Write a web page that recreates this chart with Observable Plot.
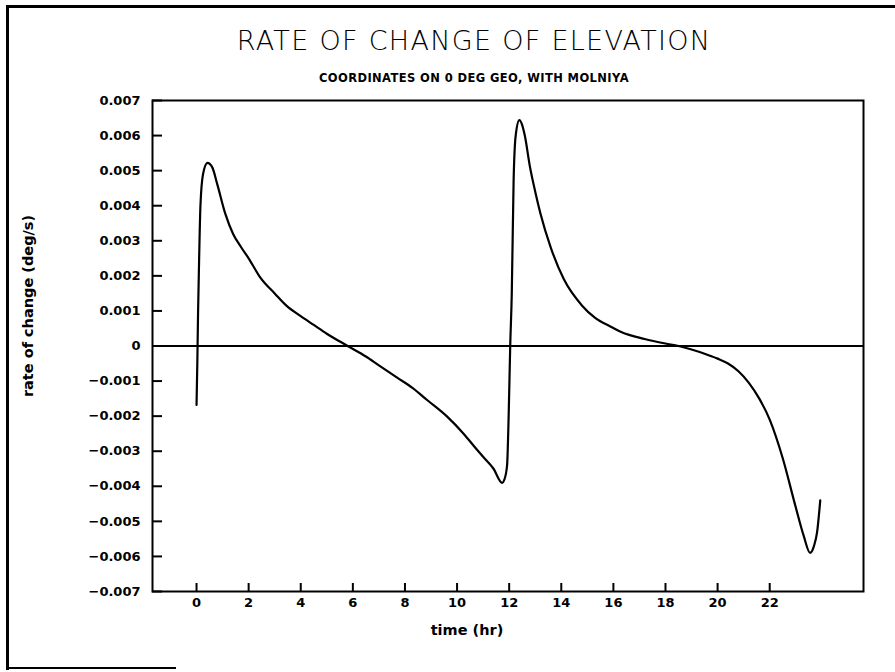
<!DOCTYPE html>
<html>
<head>
<meta charset="utf-8">
<script src="https://cdn.jsdelivr.net/npm/d3@7"></script>
<script src="https://cdn.jsdelivr.net/npm/@observablehq/plot@0.6"></script>
<style>
  html, body { margin: 0; padding: 0; background: #fff; }
  #wrap { position: relative; width: 895px; height: 672px; overflow: hidden; background: #fff; }
  #chart { position: absolute; left: 0; top: 0; }
  .frameL { position: absolute; left: 6px; top: 5px; width: 3px; height: 665px; background: #000; }
  .frameT { position: absolute; left: 6px; top: 5px; width: 889px; height: 3px; background: #000; }
  .frameB { position: absolute; left: 6px; top: 667px; width: 170px; height: 2px; background: #000; }
  #title { position: absolute; left: 0; width: 948px; top: 25px; text-align: center;
           font-family: "DejaVu Sans", sans-serif; font-weight: 200; font-size: 27px; letter-spacing: 1.3px; color: #000; }
  #subtitle { position: absolute; left: 0; width: 948px; top: 71px; text-align: center;
           font-family: "DejaVu Sans", sans-serif; font-weight: bold; font-size: 11.5px; letter-spacing: 0.4px; color: #000; }
</style>
</head>
<body>
<div id="wrap">
  <div id="chart"></div>
  <div class="frameL"></div>
  <div class="frameT"></div>
  <div class="frameB"></div>
  <div id="title">RATE OF CHANGE OF ELEVATION</div>
  <div id="subtitle">COORDINATES ON 0 DEG GEO, WITH MOLNIYA</div>
</div>
<script>
// time (hr)
const timeHr = [
  0.0, 0.03, 0.06, 0.1, 0.15, 0.25, 0.42, 0.6, 0.8, 1.1, 1.4, 1.7, 2.0, 2.45, 3.0, 3.45, 4.0, 4.5, 5.0, 5.8,
  6.5, 7.0, 7.7, 8.3, 8.85, 9.6, 10.25, 10.7, 11.0, 11.4, 11.73, 11.82, 11.92, 11.98, 12.04, 12.1, 12.17,
  12.25, 12.39, 12.5, 12.6, 12.8, 13.0, 13.2, 13.6, 14.1, 14.8, 15.3, 15.9, 16.3, 17.2, 18.0, 18.5, 19.0,
  19.5, 20.0, 20.4, 20.8, 21.2, 21.6, 22.0, 22.5, 23.0, 23.3, 23.55, 23.7, 23.82, 23.94
];
// rate of change (deg/s)
const rateDegS = [
  -0.00168, -0.0005, 0.0010, 0.0025, 0.0040, 0.0049, 0.00522, 0.0051, 0.0046, 0.00378, 0.0032, 0.00283, 0.0025,
  0.00195, 0.0015, 0.00115, 0.00085, 0.0006, 0.00035, 0.0,
  -0.0003, -0.00055, -0.0009, -0.0012, -0.00154, -0.0020, -0.0025, -0.0029, -0.00316, -0.0035, -0.0039, -0.0038,
  -0.0034, -0.0020, 0.0, 0.0015, 0.0047,
  0.0060, 0.00644, 0.0063, 0.0060, 0.0051, 0.0044, 0.00378, 0.0028, 0.0019, 0.00115, 0.0008, 0.00055, 0.0004,
  0.0002, 0.00007, 0.0, -0.0001,
  -0.00022, -0.00036, -0.0005, -0.00072, -0.00105, -0.0015, -0.0021, -0.0032, -0.0046, -0.0054, -0.0059, -0.0057, -0.0053, -0.0044
];
const xTicks = [0, 2, 4, 6, 8, 10, 12, 14, 16, 18, 20, 22];
const yTicks = [-0.007, -0.006, -0.005, -0.004, -0.003, -0.002, -0.001, 0, 0.001, 0.002, 0.003, 0.004, 0.005, 0.006, 0.007];
const xDomain = [-1.69, 25.6];
const yDomain = [-0.007, 0.007];
const xLabel = "time (hr)";
const yLabel = "rate of change (deg/s)";

const W = 895, H = 672, mL = 152, mR = 32, mT = 100, mB = 81;
const data = timeHr.map((t, i) => ({t, r: rateDegS[i]}));
const fmtY = d => d === 0 ? "0" : d3.format(".3f")(d);

// inward tick lengths (px) converted through the scale extents
const xPerPx = (xDomain[1] - xDomain[0]) / (W - mL - mR);
const yPerPx = (yDomain[1] - yDomain[0]) / (H - mT - mB);

const plot = Plot.plot({
  width: W,
  height: H,
  marginLeft: mL,
  marginRight: mR,
  marginTop: mT,
  marginBottom: mB,
  style: {fontFamily: "DejaVu Sans, sans-serif", fontSize: "13px", fontWeight: "bold", color: "#000"},
  x: {domain: xDomain},
  y: {domain: yDomain},
  marks: [
    Plot.ruleY([0], {stroke: "#000", strokeWidth: 2}),
    Plot.line(data, {x: "t", y: "r", stroke: "#000", strokeWidth: 2.2, curve: "monotone-x"}),
    // inward tick marks
    Plot.ruleY(yTicks, {y: d => d, x1: () => xDomain[0], x2: () => xDomain[0] + 10 * xPerPx, stroke: "#000", strokeWidth: 2}),
    Plot.ruleX(xTicks, {x: d => d, y1: () => yDomain[0], y2: () => yDomain[0] + 8 * yPerPx, stroke: "#000", strokeWidth: 2}),
    // tick labels
    Plot.axisY(yTicks, {tickSize: 0, tickPadding: 12, tickFormat: fmtY, label: null}),
    Plot.axisX(xTicks, {tickSize: 0, tickPadding: 6, tickFormat: d => String(d), label: null}),
    Plot.frame({stroke: "#000", strokeWidth: 2}),
    Plot.text([xLabel], {frameAnchor: "bottom", text: d => d, dx: -41, dy: 43, fontSize: 14.5}),
    Plot.text([yLabel], {frameAnchor: "left", text: d => d, rotate: -90, textAnchor: "middle", dx: -124, dy: -40, fontSize: 14.5})
  ]
});
document.getElementById("chart").appendChild(plot);
</script>
</body>
</html>
